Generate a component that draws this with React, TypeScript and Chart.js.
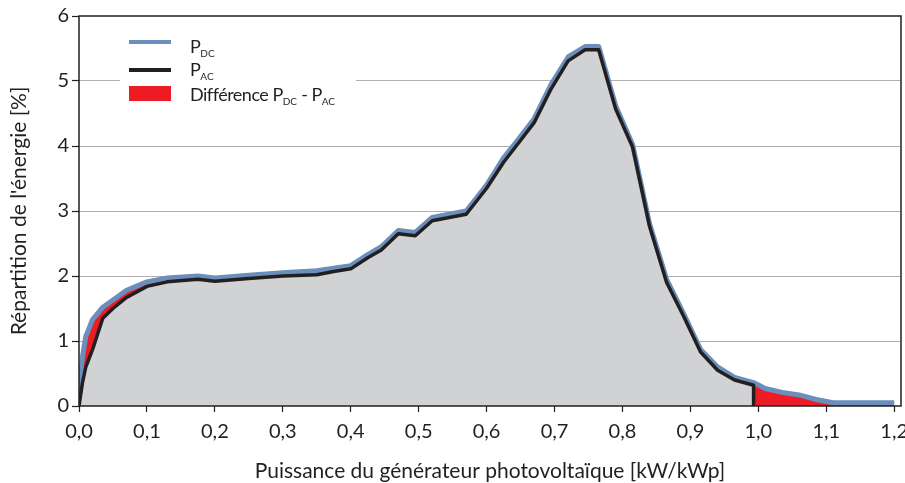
import React, { useEffect, useRef } from "react";
import { Chart, registerables } from "chart.js";

Chart.register(...registerables);

// ---- data ----
const X_VALUES = [
  0, 0.005, 0.01, 0.02, 0.035, 0.05, 0.07, 0.1,
  0.13, 0.175, 0.2, 0.25, 0.3, 0.35, 0.375, 0.4,
  0.425, 0.445, 0.47, 0.495, 0.52, 0.545, 0.57, 0.6,
  0.625, 0.645, 0.67, 0.695, 0.72, 0.745, 0.765, 0.79,
  0.815, 0.84, 0.865, 0.89, 0.915, 0.94, 0.965, 0.993,
  0.993, 1.01, 1.035, 1.06, 1.085, 1.11, 1.15, 1.2,
];
const P_DC = [
  0.2, 0.75, 1.07, 1.33, 1.52, 1.63, 1.78, 1.91,
  1.97, 2.0, 1.97, 2.01, 2.05, 2.08, 2.12, 2.16,
  2.33, 2.45, 2.7, 2.67, 2.9, 2.95, 3.0, 3.4,
  3.82, 4.08, 4.42, 4.95, 5.37, 5.53, 5.53, 4.62,
  4.02, 2.8, 1.95, 1.42, 0.87, 0.6, 0.44, 0.36,
  0.36, 0.27, 0.21, 0.17, 0.1, 0.05, 0.05, 0.05,
];
const P_AC = [
  0, 0.35, 0.6, 0.87, 1.35, 1.5, 1.67, 1.84,
  1.91, 1.95, 1.92, 1.96, 2.0, 2.02, 2.07, 2.11,
  2.28, 2.4, 2.65, 2.62, 2.85, 2.9, 2.95, 3.35,
  3.75, 4.02, 4.36, 4.88, 5.31, 5.48, 5.48, 4.57,
  3.98, 2.76, 1.9, 1.38, 0.83, 0.55, 0.4, 0.32,
  0, 0, 0, 0, 0, 0, 0, 0,
];
const X_TICKS = [0, 0.1, 0.2, 0.3, 0.4, 0.5, 0.6, 0.7, 0.8, 0.9, 1.0, 1.1, 1.2];
const Y_TICKS = [0, 1, 2, 3, 4, 5, 6];
const X_TITLE = "Puissance du générateur photovoltaïque [kW/kWp]";
const Y_TITLE = "Répartition de l'énergie [%]";

// ---- styles ----
const FONT = "Lato, 'DejaVu Sans', sans-serif";
const INK = "#231f20";
const BLUE = "#6b8fbd";
const RED = "#ed1c24";
const GRAY = "#d1d2d4";
const GRID = "#aeb0b2";

const framePlugin = {
  id: "frame",
  afterDatasetsDraw(chart: any) {
    const { ctx, chartArea: a } = chart;
    ctx.save();
    ctx.strokeStyle = INK;
    ctx.lineWidth = 1.5;
    ctx.beginPath();
    ctx.moveTo(a.left, a.top);
    ctx.lineTo(a.right, a.top);
    ctx.lineTo(a.right, a.bottom);
    ctx.lineTo(a.left, a.bottom);
    ctx.closePath();
    ctx.stroke();
    ctx.restore();
  },
};

export default function App() {
  const ref = useRef<HTMLCanvasElement | null>(null);

  useEffect(() => {
    if (!ref.current) return;
    const acPoints = X_VALUES.map((x, i) => ({ x, y: P_AC[i] }));
    const dcPoints = X_VALUES.map((x, i) => ({ x, y: P_DC[i] }));
    const lastAcIndex = P_AC.findIndex((v, i) => i > 0 && v === 0);
    const chart = new Chart(ref.current, {
      type: "line",
      data: {
        datasets: [
          {
            label: "P_AC",
            data: acPoints,
            borderColor: INK,
            borderWidth: 3.5,
            backgroundColor: GRAY,
            fill: "origin",
            pointRadius: 0,
            tension: 0,
            borderJoinStyle: "round",
            segment: {
              borderColor: (c: any) => (c.p0DataIndex >= lastAcIndex ? "transparent" : INK),
            },
          },
          {
            label: "P_DC",
            data: dcPoints,
            borderColor: BLUE,
            borderWidth: 5,
            fill: { target: 0, above: RED, below: RED },
            pointRadius: 0,
            tension: 0,
            borderJoinStyle: "round",
          },
        ],
      },
      options: {
        animation: false,
        responsive: false,
        layout: { padding: { top: 16, right: 4, left: 0, bottom: 0 } },
        plugins: {
          legend: { display: false },
          tooltip: { enabled: false },
          filler: { drawTime: "beforeDatasetsDraw" },
        } as any,
        scales: {
          x: {
            type: "linear",
            min: 0,
            max: 1.21,
            afterBuildTicks: (s: any) => {
              s.ticks = X_TICKS.map((v) => ({ value: v }));
            },
            afterFit: (s: any) => {
              s.height = 77;
              s.paddingLeft = 0;
              s.paddingRight = 0;
            },
            ticks: {
              callback: (v: any) => Number(v).toFixed(1).replace(".", ","),
              font: { family: FONT, size: 20 },
              color: INK,
              padding: 8,
              maxRotation: 0,
              autoSkip: false,
            },
            grid: {
              drawOnChartArea: false,
              drawTicks: true,
              tickLength: 6,
              tickColor: INK,
              tickWidth: 1.2,
            },
            border: { display: false },
            title: {
              display: true,
              text: X_TITLE,
              font: { family: FONT, size: 21, lineHeight: 1.0 },
              color: INK,
              padding: { top: 0, bottom: 1 },
            },
          },
          y: {
            min: 0,
            max: 6,
            afterBuildTicks: (s: any) => {
              s.ticks = Y_TICKS.map((v) => ({ value: v }));
            },
            afterFit: (s: any) => {
              s.width = 79;
            },
            ticks: {
              font: { family: FONT, size: 20 },
              color: INK,
              padding: 3,
            },
            grid: {
              color: (c: any) =>
                c.tick && (c.tick.value === 0 || c.tick.value === 6) ? "transparent" : GRID,
              lineWidth: 1,
              drawTicks: true,
              tickLength: 7,
              tickColor: INK,
              tickWidth: 1.2,
            },
            border: { display: false },
            title: {
              display: true,
              text: Y_TITLE,
              font: { family: FONT, size: 21 },
              color: INK,
              padding: { top: 7, bottom: 0 },
            },
          },
        },
      } as any,
      plugins: [framePlugin],
    });
    return () => chart.destroy();
  }, []);

  const textStyle: React.CSSProperties = {
    position: "absolute",
    left: 190,
    fontFamily: FONT,
    fontSize: 18,
    letterSpacing: -0.5,
    lineHeight: "24px",
    color: INK,
    whiteSpace: "nowrap",
  };
  const sub: React.CSSProperties = { fontSize: 10, verticalAlign: -4, letterSpacing: 0 };

  return (
    <div
      style={{
        position: "fixed",
        left: 0,
        top: 0,
        width: 905,
        height: 483,
        background: "#fff",
      }}
    >
      <canvas ref={ref} width={905} height={483} style={{ display: "block" }} />
      <div style={{ position: "absolute", left: 120, top: 28, width: 236, height: 84, background: "#fff" }} />
      <div style={{ position: "absolute", left: 129, top: 40, width: 42, height: 4, background: BLUE }} />
      <div style={{ position: "absolute", left: 129, top: 68, width: 42, height: 4, background: INK }} />
      <div style={{ position: "absolute", left: 129, top: 86, width: 42, height: 15, background: RED }} />
      <div style={{ ...textStyle, top: 33.5 }}>
        P<span style={sub}>DC</span>
      </div>
      <div style={{ ...textStyle, top: 57 }}>
        P<span style={sub}>AC</span>
      </div>
      <div style={{ ...textStyle, top: 81.5 }}>
        Différence P<span style={sub}>DC</span> - P<span style={sub}>AC</span>
      </div>
    </div>
  );
}
